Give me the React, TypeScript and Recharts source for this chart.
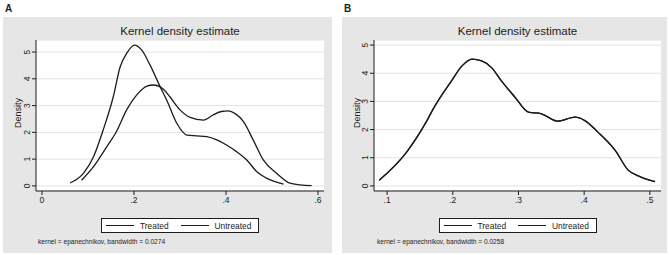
import React from 'react'
import { LineChart, Line, XAxis, YAxis, CartesianGrid } from 'recharts'

// Panel A: kernel density, bandwidth 0.0274
const aTreatedX = [0.061, 0.09, 0.112, 0.133, 0.155, 0.17, 0.184, 0.201, 0.217, 0.235, 0.257, 0.271, 0.293, 0.315, 0.336, 0.358, 0.38, 0.401, 0.423, 0.445, 0.467, 0.488, 0.525]
const aTreatedY = [0.11, 0.47, 1.09, 2.09, 3.33, 4.45, 4.95, 5.26, 5.07, 4.51, 3.7, 3.21, 2.34, 1.9, 1.87, 1.84, 1.72, 1.53, 1.28, 0.97, 0.53, 0.29, 0.07]
const aUntreatedX = [0.086, 0.112, 0.141, 0.162, 0.184, 0.206, 0.228, 0.242, 0.264, 0.278, 0.3, 0.322, 0.351, 0.372, 0.39, 0.405, 0.42, 0.438, 0.459, 0.481, 0.51, 0.539, 0.561, 0.586]
const aUntreatedY = [0.21, 0.72, 1.47, 2.03, 2.84, 3.4, 3.73, 3.77, 3.61, 3.33, 2.84, 2.56, 2.46, 2.65, 2.78, 2.8, 2.7, 2.4, 1.72, 0.97, 0.47, 0.1, 0.04, 0.01]

// Panel B: kernel density, bandwidth 0.0258 (both groups overlap)
const bTreatedX = [0.088, 0.13, 0.158, 0.173, 0.198, 0.214, 0.229, 0.244, 0.259, 0.274, 0.295, 0.315, 0.335, 0.36, 0.386, 0.401, 0.421, 0.447, 0.467, 0.485, 0.508]
const bTreatedY = [0.2, 1.21, 2.21, 2.85, 3.73, 4.26, 4.5, 4.44, 4.2, 3.73, 3.14, 2.62, 2.56, 2.3, 2.44, 2.32, 1.91, 1.27, 0.56, 0.33, 0.15]
const bUntreatedX = bTreatedX
const bUntreatedY = bTreatedY

const aXTicks = [0, 0.2, 0.4, 0.6]
const bXTicks = [0.1, 0.2, 0.3, 0.4, 0.5]
const yTicks = [0, 1, 2, 3, 4, 5]
const seriesNames = ['Treated', 'Untreated']

const FONT = '"Liberation Sans", Arial, Helvetica, sans-serif'
const INK = '#1c1c1c'

const zip = (xs: number[], ys: number[]) => xs.map((x, i) => ({ x, y: ys[i] }))
const stataFmt = (v: number) => (v === 0 ? '0' : v.toFixed(1).replace(/^0/, ''))

function RotatedTick(props: any) {
  const { x, y, payload } = props
  return (
    <text
      transform={`translate(${x - 3}, ${y}) rotate(-90)`}
      textAnchor="middle"
      dy="0.35em"
      fontSize={8.5}
      fontFamily={FONT}
      fill={INK}
    >
      {payload.value}
    </text>
  )
}

function Panel(props: {
  label: string
  left: number
  width: number
  plotLeft: number
  plotRight: number
  xDomain: [number, number]
  yDomain: [number, number]
  xTicks: number[]
  treated: { x: number; y: number }[]
  untreated: { x: number; y: number }[]
  bandwidth: string
}) {
  const { label, left, width, plotLeft, plotRight, xDomain, yDomain, xTicks, treated, untreated, bandwidth } = props
  const height = 236
  const plotTop = 23
  const plotBottom = 62
  const plotCenter = plotLeft + (width - plotLeft - plotRight) / 2
  return (
    <>
      <div style={{ position: 'absolute', left: left + 2, top: 3, fontFamily: FONT, fontWeight: 'bold', fontSize: 10, color: INK }}>
        {label}
      </div>
      <div style={{ position: 'absolute', left, top: 17, width, height, background: '#e6e6e6' }}>
        <div style={{ position: 'absolute', left: 0, width: plotCenter * 2, top: 8, textAlign: 'center', fontFamily: FONT, fontSize: 11.5, color: INK }}>
          Kernel density estimate
        </div>
        <div
          style={{
            position: 'absolute', left: 15 - 40, top: 96 - 6, width: 80, textAlign: 'center',
            transform: 'rotate(-90deg)', fontFamily: FONT, fontSize: 9, color: INK, lineHeight: '12px',
          }}
        >
          Density
        </div>
        <LineChart
          width={width}
          height={height}
          margin={{ top: plotTop, right: plotRight, left: plotLeft - 20, bottom: plotBottom - 20 }}
          style={{ position: 'absolute', left: 0, top: 0 }}
        >
          <CartesianGrid fill="#ffffff" vertical={false} stroke="#e2e2e2" />
          <XAxis
            type="number"
            dataKey="x"
            domain={xDomain}
            ticks={xTicks}
            allowDataOverflow
            tickFormatter={stataFmt}
            height={20}
            tickSize={4}
            tickMargin={2}
            stroke={INK}
            tick={{ fontSize: 8.5, fontFamily: FONT, fill: INK }}
          />
          <YAxis
            type="number"
            domain={yDomain}
            ticks={yTicks}
            allowDataOverflow
            width={20}
            tickSize={4}
            tickMargin={2}
            stroke={INK}
            tick={<RotatedTick />}
          />
          <Line data={treated} dataKey="y" name={seriesNames[0]} type="monotone" stroke={INK} strokeWidth={1.3} dot={false} isAnimationActive={false} />
          <Line data={untreated} dataKey="y" name={seriesNames[1]} type="monotone" stroke={INK} strokeWidth={1.3} dot={false} isAnimationActive={false} />
        </LineChart>
        <div
          style={{
            position: 'absolute', left: plotCenter - 79, top: 201, width: 158, height: 15, boxSizing: 'border-box',
            border: `1px solid ${INK}`, background: '#ffffff', display: 'flex', alignItems: 'center',
            fontFamily: FONT, fontSize: 8.4, color: INK,
          }}
        >
          {seriesNames.map((n, i) => (
            <div key={n} style={{ display: 'flex', alignItems: 'center', marginLeft: i === 0 ? 4 : 12 }}>
              <div style={{ width: 28, height: 1, background: INK, marginRight: 6 }} />
              <span>{n}</span>
            </div>
          ))}
        </div>
        <div style={{ position: 'absolute', left: 35, top: 221, fontFamily: FONT, fontSize: 6.6, color: INK, whiteSpace: 'nowrap' }}>
          kernel = epanechnikov, bandwidth = {bandwidth}
        </div>
      </div>
    </>
  )
}

export default function App() {
  return (
    <div style={{ position: 'absolute', left: 0, top: 0, width: 669, height: 255, background: '#ffffff', overflow: 'hidden' }}>
      <Panel
        label="A"
        left={3}
        width={329}
        plotLeft={33}
        plotRight={8}
        xDomain={[-0.013, 0.613]}
        yDomain={[-0.19, 5.45]}
        xTicks={aXTicks}
        treated={zip(aTreatedX, aTreatedY)}
        untreated={zip(aUntreatedX, aUntreatedY)}
        bandwidth="0.0274"
      />
      <Panel
        label="B"
        left={342}
        width={325}
        plotLeft={32}
        plotRight={6}
        xDomain={[0.08, 0.517]}
        yDomain={[-0.18, 5.18]}
        xTicks={bXTicks}
        treated={zip(bTreatedX, bTreatedY)}
        untreated={zip(bUntreatedX, bUntreatedY)}
        bandwidth="0.0258"
      />
    </div>
  )
}
